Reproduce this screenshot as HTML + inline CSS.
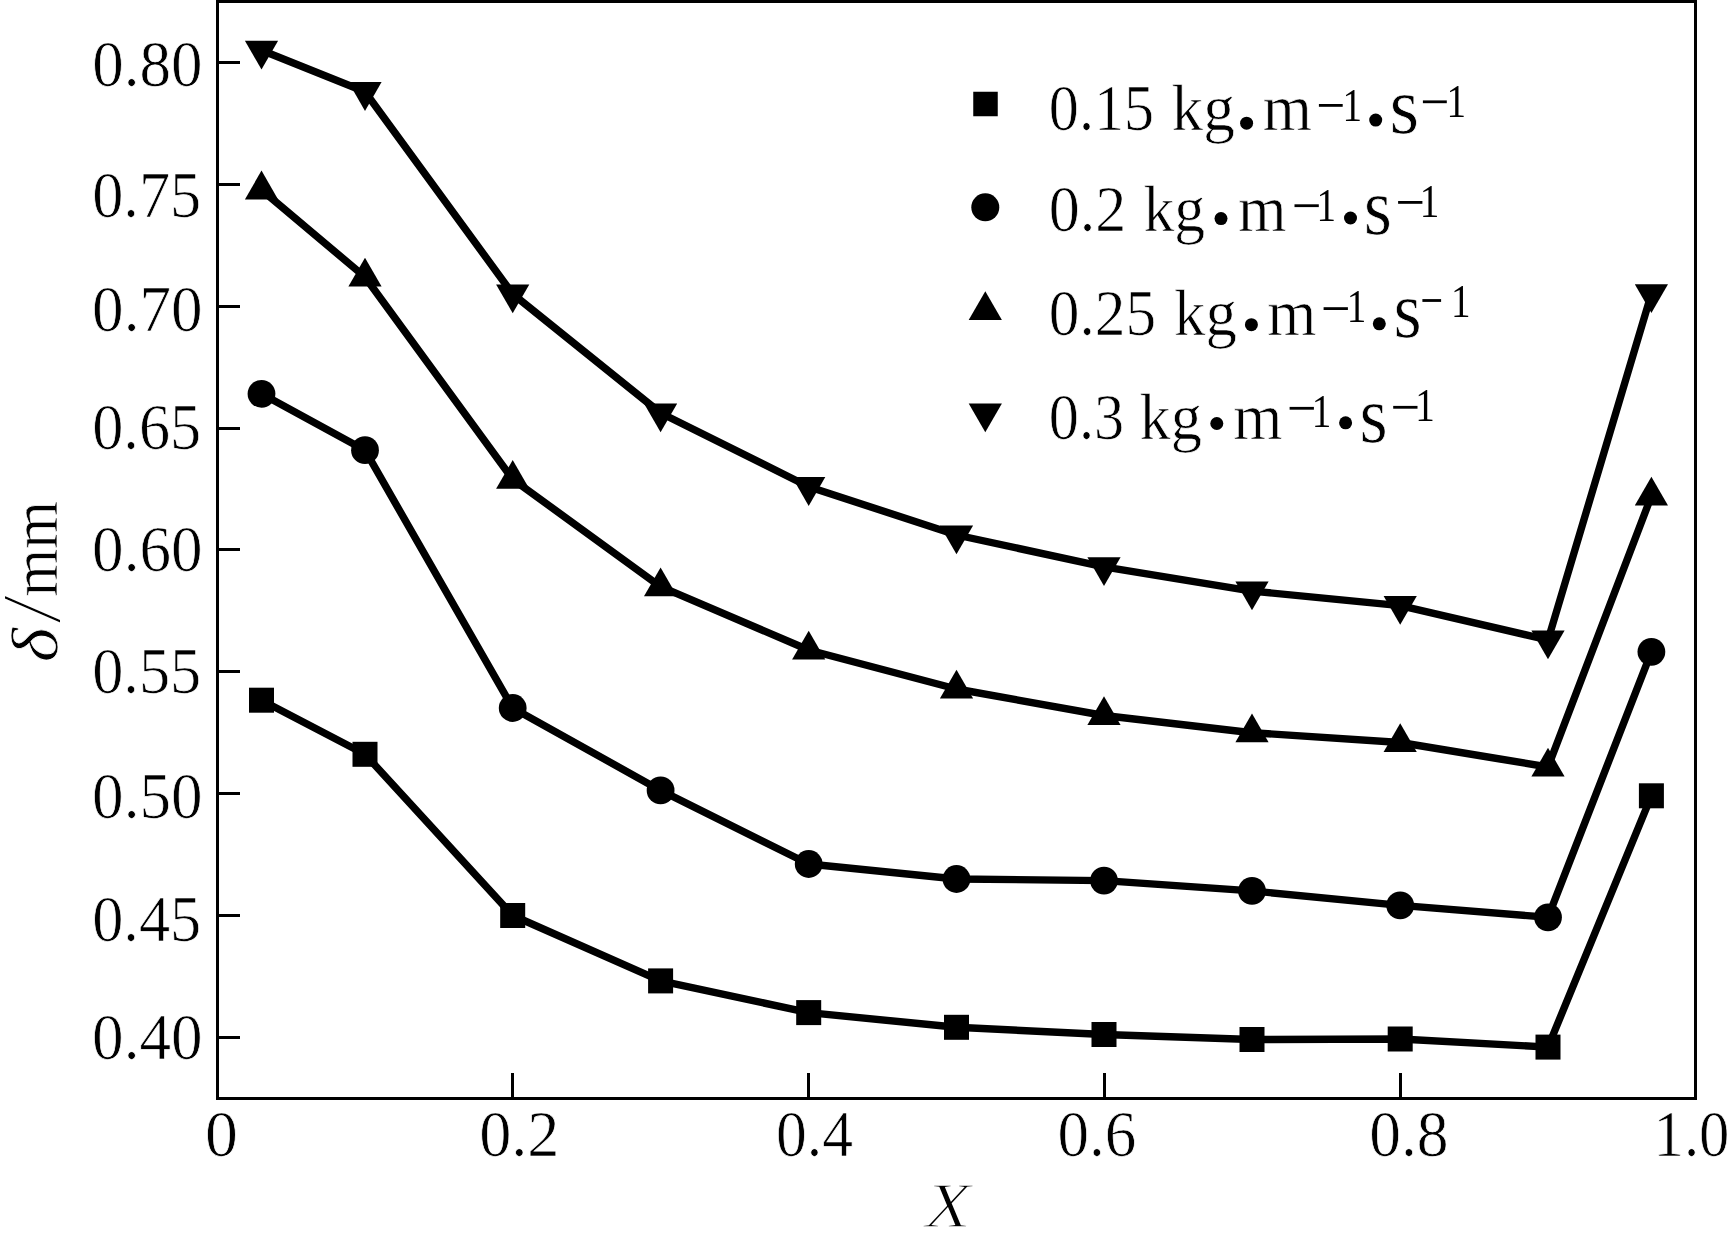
<!DOCTYPE html>
<html><head><meta charset="utf-8"><title>chart</title>
<style>html,body{margin:0;padding:0;background:#fff;}svg{display:block;filter:grayscale(1);}text{font-family:"Liberation Serif",serif;fill:#000;}</style></head><body>
<svg width="1730" height="1233" viewBox="0 0 1730 1233">
<rect x="0" y="0" width="1730" height="1233" fill="#fff"/>
<g fill="#000" shape-rendering="crispEdges">
<rect x="216" y="0" width="1481" height="3"/>
<rect x="216" y="1097" width="1481" height="3"/>
<rect x="216" y="0" width="3" height="1100"/>
<rect x="1694" y="0" width="3" height="1100"/>
<rect x="219" y="1036" width="21" height="3"/>
<rect x="219" y="914" width="21" height="3"/>
<rect x="219" y="792" width="21" height="3"/>
<rect x="219" y="670" width="21" height="3"/>
<rect x="219" y="548" width="21" height="3"/>
<rect x="219" y="427" width="21" height="3"/>
<rect x="219" y="305" width="21" height="3"/>
<rect x="219" y="183" width="21" height="3"/>
<rect x="219" y="61" width="21" height="3"/>
<rect x="511" y="1073" width="3" height="24"/>
<rect x="807" y="1073" width="3" height="24"/>
<rect x="1103" y="1073" width="3" height="24"/>
<rect x="1399" y="1073" width="3" height="24"/>
</g>
<g fill="none" stroke="#000" stroke-width="7.4" stroke-linejoin="round">
<polyline points="261.5,700.2 365.0,754.3 512.7,915.5 660.6,980.9 808.7,1012.6 956.5,1027.3 1104.0,1034.5 1252.0,1039.5 1400.2,1039.0 1548.0,1047.1 1651.4,795.8"/>
<polyline points="261.5,393.8 365.0,450.2 512.7,708.0 660.6,790.4 808.7,864.0 956.5,879.0 1104.0,880.6 1252.0,890.9 1400.2,905.4 1548.0,917.3 1651.4,651.8"/>
<polyline points="261.5,189.8 365.0,277.0 512.7,479.2 660.6,586.7 808.7,650.0 956.5,689.0 1104.0,715.5 1252.0,732.7 1400.2,742.5 1548.0,767.0 1651.4,496.0"/>
<polyline points="261.5,50.3 365.0,91.7 512.7,294.0 660.6,413.0 808.7,486.7 956.5,535.0 1104.0,566.9 1252.0,591.1 1400.2,605.6 1548.0,640.0 1651.4,293.8"/>
</g>
<g fill="#000">
<rect x="249.00" y="687.70" width="25.00" height="25.00"/>
<rect x="352.50" y="741.80" width="25.00" height="25.00"/>
<rect x="500.20" y="903.00" width="25.00" height="25.00"/>
<rect x="648.10" y="968.40" width="25.00" height="25.00"/>
<rect x="796.20" y="1000.10" width="25.00" height="25.00"/>
<rect x="944.00" y="1014.80" width="25.00" height="25.00"/>
<rect x="1091.50" y="1022.00" width="25.00" height="25.00"/>
<rect x="1239.50" y="1027.00" width="25.00" height="25.00"/>
<rect x="1387.70" y="1026.50" width="25.00" height="25.00"/>
<rect x="1535.50" y="1034.60" width="25.00" height="25.00"/>
<rect x="1638.90" y="783.30" width="25.00" height="25.00"/>
<circle cx="261.50" cy="393.80" r="13.9"/>
<circle cx="365.00" cy="450.20" r="13.9"/>
<circle cx="512.70" cy="708.00" r="13.9"/>
<circle cx="660.60" cy="790.40" r="13.9"/>
<circle cx="808.70" cy="864.00" r="13.9"/>
<circle cx="956.50" cy="879.00" r="13.9"/>
<circle cx="1104.00" cy="880.60" r="13.9"/>
<circle cx="1252.00" cy="890.90" r="13.9"/>
<circle cx="1400.20" cy="905.40" r="13.9"/>
<circle cx="1548.00" cy="917.30" r="13.9"/>
<circle cx="1651.40" cy="651.80" r="13.9"/>
<polygon points="261.50,170.60 244.90,199.40 278.10,199.40"/>
<polygon points="365.00,257.80 348.40,286.60 381.60,286.60"/>
<polygon points="512.70,460.00 496.10,488.80 529.30,488.80"/>
<polygon points="660.60,567.50 644.00,596.30 677.20,596.30"/>
<polygon points="808.70,630.80 792.10,659.60 825.30,659.60"/>
<polygon points="956.50,669.80 939.90,698.60 973.10,698.60"/>
<polygon points="1104.00,696.30 1087.40,725.10 1120.60,725.10"/>
<polygon points="1252.00,713.50 1235.40,742.30 1268.60,742.30"/>
<polygon points="1400.20,723.30 1383.60,752.10 1416.80,752.10"/>
<polygon points="1548.00,747.80 1531.40,776.60 1564.60,776.60"/>
<polygon points="1651.40,476.80 1634.80,505.60 1668.00,505.60"/>
<polygon points="261.50,69.50 244.90,40.70 278.10,40.70"/>
<polygon points="365.00,110.90 348.40,82.10 381.60,82.10"/>
<polygon points="512.70,313.20 496.10,284.40 529.30,284.40"/>
<polygon points="660.60,432.20 644.00,403.40 677.20,403.40"/>
<polygon points="808.70,505.90 792.10,477.10 825.30,477.10"/>
<polygon points="956.50,554.20 939.90,525.40 973.10,525.40"/>
<polygon points="1104.00,586.10 1087.40,557.30 1120.60,557.30"/>
<polygon points="1252.00,610.30 1235.40,581.50 1268.60,581.50"/>
<polygon points="1400.20,624.80 1383.60,596.00 1416.80,596.00"/>
<polygon points="1548.00,659.20 1531.40,630.40 1564.60,630.40"/>
<polygon points="1651.40,313.00 1634.80,284.20 1668.00,284.20"/>
<rect x="973.25" y="91.75" width="24.50" height="24.50"/>
<circle cx="985.30" cy="207.30" r="14.0"/>
<polygon points="985.30,291.30 968.70,320.10 1001.90,320.10"/>
<polygon points="985.30,432.20 968.70,403.40 1001.90,403.40"/>
</g>
<text transform="translate(92.30,86.20) scale(0.9688,1)" font-size="65" stroke="#fff" stroke-width="0.7">0.80</text>
<text transform="translate(92.13,216.80) scale(0.9592,1)" font-size="65" stroke="#fff" stroke-width="0.7">0.75</text>
<text transform="translate(92.10,330.80) scale(0.9706,1)" font-size="65" stroke="#fff" stroke-width="0.7">0.70</text>
<text transform="translate(92.13,449.40) scale(0.9592,1)" font-size="65" stroke="#fff" stroke-width="0.7">0.65</text>
<text transform="translate(92.10,570.70) scale(0.9706,1)" font-size="65" stroke="#fff" stroke-width="0.7">0.60</text>
<text transform="translate(92.13,692.70) scale(0.9592,1)" font-size="65" stroke="#fff" stroke-width="0.7">0.55</text>
<text transform="translate(92.10,817.80) scale(0.9706,1)" font-size="65" stroke="#fff" stroke-width="0.7">0.50</text>
<text transform="translate(92.13,941.00) scale(0.9592,1)" font-size="65" stroke="#fff" stroke-width="0.7">0.45</text>
<text transform="translate(92.10,1059.00) scale(0.9706,1)" font-size="65" stroke="#fff" stroke-width="0.7">0.40</text>
<text transform="translate(204.99,1155.80) scale(1.0127,1)" font-size="65" stroke="#fff" stroke-width="0.7">0</text>
<text transform="translate(479.15,1155.80) scale(0.9895,1)" font-size="65" stroke="#fff" stroke-width="0.7">0.2</text>
<text transform="translate(776.05,1155.80) scale(0.9478,1)" font-size="65" stroke="#fff" stroke-width="0.7">0.4</text>
<text transform="translate(1057.50,1155.80) scale(0.9709,1)" font-size="65" stroke="#fff" stroke-width="0.7">0.6</text>
<text transform="translate(1369.18,1155.80) scale(0.9777,1)" font-size="65" stroke="#fff" stroke-width="0.7">0.8</text>
<text transform="translate(1653.57,1155.80) scale(0.9335,1)" font-size="65" stroke="#fff" stroke-width="0.7">1.0</text>
<text transform="translate(924.91,1227.40) scale(1.1899,1)" font-size="63.5" font-style="italic" stroke="#fff" stroke-width="1.5">X</text>
<g transform="translate(57,660) rotate(-90)">
<text transform="translate(-2.17,0.00) scale(1.1383,1)" font-size="65" font-style="italic" stroke="#fff" stroke-width="0.7">δ</text>
<text transform="translate(35.80,3.40) scale(1.2661,1)" font-size="85" stroke="#fff" stroke-width="2.0">/</text>
<text transform="translate(63.41,0.00) scale(0.9449,1)" font-size="65" stroke="#fff" stroke-width="0.7">mm</text>
</g>
<text transform="translate(1048.81,130.40) scale(0.9261,1)" font-size="65" stroke="#fff" stroke-width="0.7">0.15</text>
<text transform="translate(1171.60,130.40) scale(0.9708,1)" font-size="65" stroke="#fff" stroke-width="0.7">kg</text>
<text transform="translate(1262.67,130.40) scale(0.9735,1)" font-size="65" stroke="#fff" stroke-width="0.7">m</text>
<text transform="translate(1389.47,133.00) scale(0.9535,1)" font-size="80" stroke="#fff" stroke-width="0.7">s</text>
<circle cx="1246.6" cy="123.2" r="6.5"/>
<circle cx="1375.7" cy="120.1" r="6.5"/>
<rect x="1318.9" y="104.0" width="23.8" height="2.8"/>
<text transform="translate(1342.48,120.90) scale(0.8500,1)" font-size="46" stroke="#fff" stroke-width="0">1</text>
<rect x="1422.9" y="100.4" width="23.9" height="2.8"/>
<text transform="translate(1446.53,117.00) scale(0.8500,1)" font-size="46" stroke="#fff" stroke-width="0">1</text>
<text transform="translate(1048.74,231.00) scale(0.9549,1)" font-size="65" stroke="#fff" stroke-width="0.7">0.2</text>
<text transform="translate(1143.43,231.00) scale(0.9468,1)" font-size="65" stroke="#fff" stroke-width="0.7">kg</text>
<text transform="translate(1238.09,231.00) scale(0.9610,1)" font-size="65" stroke="#fff" stroke-width="0.7">m</text>
<text transform="translate(1363.73,233.60) scale(0.9054,1)" font-size="80" stroke="#fff" stroke-width="0.7">s</text>
<circle cx="1221.0" cy="218.6" r="6.5"/>
<circle cx="1350.5" cy="218.0" r="6.5"/>
<rect x="1294.5" y="204.3" width="24.3" height="2.8"/>
<text transform="translate(1316.58,221.20) scale(0.8500,1)" font-size="46" stroke="#fff" stroke-width="0">1</text>
<rect x="1398.1" y="201.0" width="24.3" height="2.8"/>
<text transform="translate(1419.68,217.00) scale(0.8500,1)" font-size="46" stroke="#fff" stroke-width="0">1</text>
<text transform="translate(1048.76,334.50) scale(0.9436,1)" font-size="65" stroke="#fff" stroke-width="0.7">0.25</text>
<text transform="translate(1174.11,334.50) scale(0.9644,1)" font-size="65" stroke="#fff" stroke-width="0.7">kg</text>
<text transform="translate(1267.27,334.50) scale(0.9735,1)" font-size="65" stroke="#fff" stroke-width="0.7">m</text>
<text transform="translate(1393.53,337.10) scale(0.9054,1)" font-size="80" stroke="#fff" stroke-width="0.7">s</text>
<circle cx="1251.4" cy="324.7" r="6.5"/>
<circle cx="1379.3" cy="323.8" r="6.5"/>
<rect x="1323.6" y="307.2" width="24.3" height="2.8"/>
<text transform="translate(1346.63,322.20) scale(0.8500,1)" font-size="46" stroke="#fff" stroke-width="0">1</text>
<rect x="1422.4" y="299.1" width="18.7" height="2.8"/>
<text transform="translate(1450.88,316.70) scale(0.8500,1)" font-size="46" stroke="#fff" stroke-width="0">1</text>
<text transform="translate(1048.80,439.00) scale(0.9287,1)" font-size="65" stroke="#fff" stroke-width="0.7">0.3</text>
<text transform="translate(1139.51,439.00) scale(0.9580,1)" font-size="65" stroke="#fff" stroke-width="0.7">kg</text>
<text transform="translate(1233.27,439.00) scale(0.9735,1)" font-size="65" stroke="#fff" stroke-width="0.7">m</text>
<text transform="translate(1359.53,441.60) scale(0.9054,1)" font-size="80" stroke="#fff" stroke-width="0.7">s</text>
<circle cx="1216.8" cy="423.5" r="6.5"/>
<circle cx="1345.6" cy="422.8" r="6.5"/>
<rect x="1289.6" y="406.9" width="24.3" height="2.8"/>
<text transform="translate(1311.68,427.40) scale(0.8500,1)" font-size="46" stroke="#fff" stroke-width="0">1</text>
<rect x="1393.2" y="405.9" width="24.3" height="2.8"/>
<text transform="translate(1415.28,420.90) scale(0.8500,1)" font-size="46" stroke="#fff" stroke-width="0">1</text>
</svg></body></html>
